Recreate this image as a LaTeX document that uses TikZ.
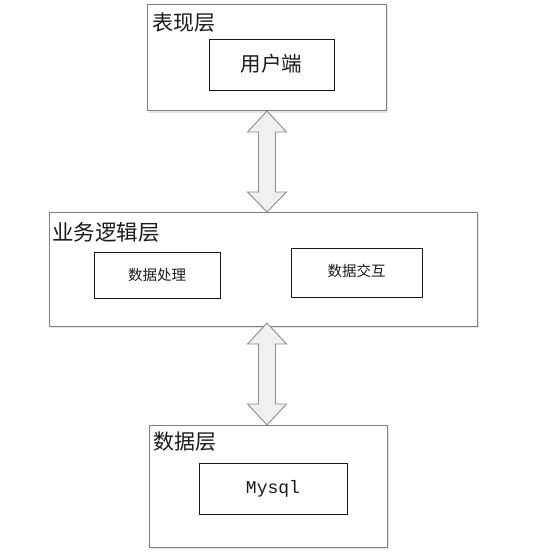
\documentclass[tikz,border=0pt]{standalone}
\usepackage{fontspec}
\newfontfamily\cjk{Noto Sans CJK SC}
\setmonofont{Liberation Mono}
\usetikzlibrary{calc}
\definecolor{framegray}{HTML}{808080}
\definecolor{shadowgray}{HTML}{E6E6E6}
\definecolor{arrowfill}{HTML}{F0F0F0}
\definecolor{arrowline}{HTML}{8C8C8C}
\definecolor{inkcol}{HTML}{1A1A1A}
\tikzset{
  layerbox/.style={draw=framegray, line width=1pt, fill=white, inner sep=0pt, outer sep=0pt, anchor=north west},
  itembox/.style={draw=inkcol, line width=0.9pt, fill=white, inner sep=0pt, outer sep=0pt, anchor=north west},
  layerlabel/.style={anchor=west, inner sep=0pt, font=\cjk\fontsize{21}{23}\selectfont, text=inkcol},
  itemlabel/.style={inner sep=0pt, text=inkcol},
  blockarrow/.style={draw=arrowline, line width=0.9pt, fill=arrowfill, line join=miter},
}
\begin{document}
\begin{tikzpicture}[x=1pt,y=-1pt]
\useasboundingbox (0,0) rectangle (546,559);
% shadows
\fill[shadowgray] (149,7) rectangle (388,113);
\fill[shadowgray] (51,214) rectangle (479,328);
\fill[shadowgray] (151,427) rectangle (389,549);
% layer boxes
\node[layerbox, minimum width=239, minimum height=106] (p) at (147,5) {};
\node[layerbox, minimum width=428, minimum height=114] (b) at (49,212) {};
\node[layerbox, minimum width=238, minimum height=122] (d) at (149,425) {};
% layer labels
\node[layerlabel] (pl) at (152,23) {表现层};
\node[layerlabel, font=\cjk\fontsize{21.5}{23}\selectfont] (bl) at (52,232) {业务逻辑层};
\node[layerlabel] (dl) at (153,442) {数据层};
% item boxes
\node[itembox, minimum width=125, minimum height=51] (u) at (209,39) {};
\node[itemlabel, font=\cjk\fontsize{20.5}{22}\selectfont] at ($(u.center)+(0,-1)$) {用户端};
\node[itembox, minimum width=126, minimum height=46] (c1) at (94,252) {};
\node[itemlabel, font=\cjk\fontsize{14.5}{16}\selectfont] at (c1.center) {数据处理};
\node[itembox, minimum width=131, minimum height=49] (c2) at (291,248) {};
\node[itemlabel, font=\cjk\fontsize{14.5}{16}\selectfont] at ($(c2.center)+(0,-2)$) {数据交互};
\node[itembox, minimum width=148, minimum height=51] (m) at (199,463) {};
\node[itemlabel, font=\ttfamily\fontsize{18}{20}\selectfont] at ($(m.center)+(0,0)$) {Mysql};
% arrows
\coordinate (a1t) at ($(p.south)+(0.5,0)$);
\coordinate (a1b) at (a1t |- b.north);
\draw[blockarrow] (a1t) -- ($(a1t)+(19.5,21)$) -- ($(a1t)+(8.5,21)$)
  -- ($(a1b)+(8.5,-20)$) -- ($(a1b)+(19.5,-20)$) -- (a1b)
  -- ($(a1b)+(-19.5,-20)$) -- ($(a1b)+(-8.5,-20)$)
  -- ($(a1t)+(-8.5,21)$) -- ($(a1t)+(-19.5,21)$) -- cycle;
\coordinate (a2t) at ($(a1t |- b.south)+(0,-3)$);
\coordinate (a2b) at (a1t |- d.north);
\draw[blockarrow] (a2t) -- ($(a2t)+(19.5,21)$) -- ($(a2t)+(8.5,21)$)
  -- ($(a2b)+(8.5,-21)$) -- ($(a2b)+(19.5,-21)$) -- (a2b)
  -- ($(a2b)+(-19.5,-21)$) -- ($(a2b)+(-8.5,-21)$)
  -- ($(a2t)+(-8.5,21)$) -- ($(a2t)+(-19.5,21)$) -- cycle;
\end{tikzpicture}
\end{document}
